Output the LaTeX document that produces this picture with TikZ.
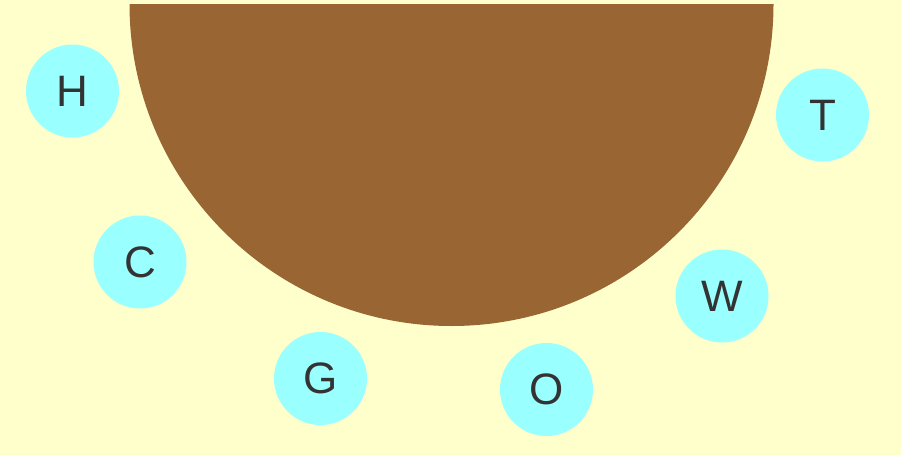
\documentclass[tikz,border=0pt]{standalone}
\usepackage{fontspec}
\setmainfont{Liberation Sans}
\definecolor{bg}{HTML}{FFFFCC}
\definecolor{table}{HTML}{996633}
\definecolor{seat}{HTML}{99FFFF}
\definecolor{txt}{HTML}{333333}
\begin{document}
\begin{tikzpicture}[x=1pt,y=-1pt,
  seatnode/.style={circle,fill=seat,minimum size=93pt,inner sep=0pt,text=txt,font=\fontsize{44}{44}\selectfont}]
\fill[bg] (0,0) rectangle (901,455);
\useasboundingbox (0,0) rectangle (901,455);
\fill[table] (129.5,4) arc[start angle=180,end angle=360,radius=322pt] -- cycle;
\node[seatnode] (H) at (72.5,91) {H};
\node[seatnode] (T) at (822.5,115) {T};
\node[seatnode] (C) at (140,262) {C};
\node[seatnode] (W) at (722,296) {W};
\node[seatnode] (G) at (320.5,378.5) {G};
\node[seatnode] (O) at (546.5,389.5) {O};
\end{tikzpicture}
\end{document}
